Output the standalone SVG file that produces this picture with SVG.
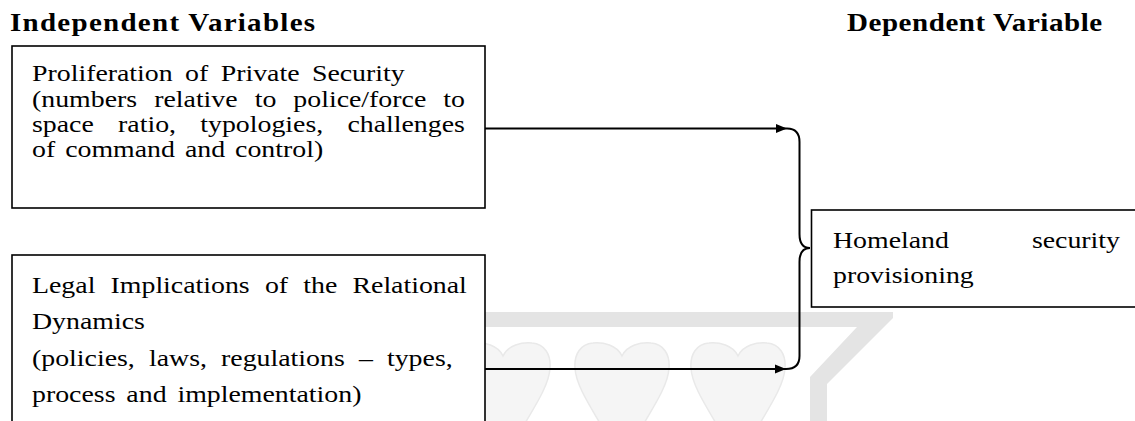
<svg xmlns="http://www.w3.org/2000/svg" width="1135" height="421" viewBox="0 0 1135 421">
  <style>
    .t { font-family: "Liberation Serif", "Times New Roman", serif; font-size: 24px; fill: #000; }
    .h { font-family: "Liberation Serif", "Times New Roman", serif; font-size: 25px; font-weight: bold; fill: #000; }
    .box { fill: #fff; stroke: #000; stroke-width: 1.6; }
    .conn { fill: none; stroke: #000; stroke-width: 2; }
    .wm { fill: #e4e4e4; stroke: none; }
    .heart { fill: #f5f5f5; stroke: #e9e9e9; stroke-width: 1.5; }
  </style>
  <defs>
    <marker id="arr" markerUnits="userSpaceOnUse" markerWidth="12" markerHeight="10" refX="11" refY="5" orient="auto">
      <path d="M0,0.5 L11,5 L0,9.5 Z" fill="#000"/>
    </marker>
  </defs>
  <rect width="1135" height="421" fill="#fff"/>

  <g id="watermark">
    <polygon class="wm" points="12,312 893,312 893,318 827,384 827,421 810,421 810,377 857,327 12,327"/>
    <path class="heart" d="M503,356 C498,345 484,342 474,343 C461,344 455,355 456,368 C457,390 480,418 503,462 C526,418 549,390 550,368 C551,355 545,344 532,343 C522,342 508,345 503,356 Z"/>
    <path class="heart" d="M622,356 C617,345 603,342 593,343 C580,344 574,355 575,368 C576,390 599,418 622,462 C645,418 668,390 669,368 C670,355 664,344 651,343 C641,342 627,345 622,356 Z"/>
    <path class="heart" d="M738,356 C733,345 719,342 709,343 C696,344 690,355 691,368 C692,390 715,418 738,462 C761,418 784,390 785,368 C786,355 780,344 767,343 C757,342 743,345 738,356 Z"/>
  </g>

  <g id="headings">
    <text class="h" transform="translate(10 31) scale(1.16 1)" textLength="263" lengthAdjust="spacing">Independent Variables</text>
    <text class="h" transform="translate(847 31) scale(1.16 1)" textLength="220" lengthAdjust="spacing">Dependent Variable</text>
  </g>

  <g id="node-proliferation">
    <rect class="box" x="12" y="46" width="473" height="162"/>
    <text class="t" transform="translate(32 81) scale(1.16 1)" word-spacing="4.7">Proliferation of Private Security</text>
    <text class="t" transform="translate(32 106.5) scale(1.16 1)" word-spacing="8.7">(numbers relative to police/force to</text>
    <text class="t" transform="translate(32 132) scale(1.16 1)" word-spacing="14.9">space ratio, typologies, challenges</text>
    <text class="t" transform="translate(32 157) scale(1.16 1)" word-spacing="2.6">of command and control)</text>
  </g>

  <g id="node-legal">
    <rect class="box" x="12" y="255" width="473" height="200"/>
    <text class="t" transform="translate(32 293) scale(1.16 1)" word-spacing="7.1">Legal Implications of the Relational</text>
    <text class="t" transform="translate(32 329) scale(1.16 1)">Dynamics</text>
    <text class="t" transform="translate(32 366) scale(1.16 1)" word-spacing="6.2">(policies, laws, regulations – types,</text>
    <text class="t" transform="translate(32 402) scale(1.16 1)" word-spacing="3.4">process and implementation)</text>
  </g>

  <g id="node-homeland">
    <rect class="box" x="811.5" y="210" width="340" height="97"/>
    <text class="t" transform="translate(833 248) scale(1.16 1)">Homeland</text>
    <text class="t" transform="translate(1120 248) scale(1.16 1)" text-anchor="end">security</text>
    <text class="t" transform="translate(833 283) scale(1.16 1)">provisioning</text>
  </g>

  <g id="connectors">
    <line class="conn" x1="485" y1="128.5" x2="787" y2="128.5" marker-end="url(#arr)"/>
    <line class="conn" x1="485" y1="369" x2="786" y2="369" marker-end="url(#arr)"/>
    <path class="conn" d="M787,128.5 C795,128.5 799.5,133 799.5,142 L799.5,234 C799.5,243 803,248 810,248 C803,248 799.5,253 799.5,262 L799.5,356 C799.5,364 795,369 786,369"/>
  </g>
</svg>
